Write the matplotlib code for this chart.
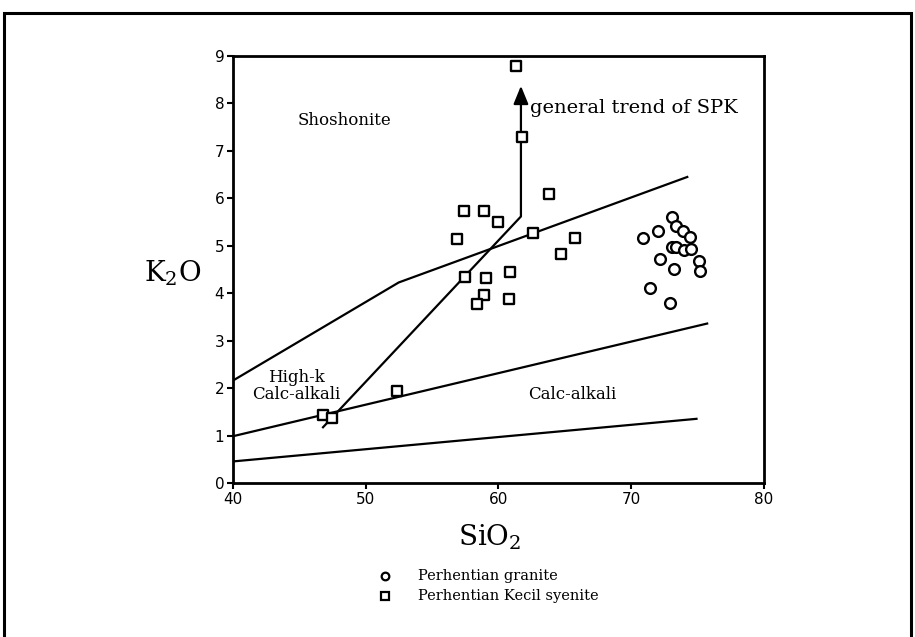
import matplotlib
matplotlib.use('Agg')
import matplotlib.pyplot as plt
from matplotlib.patches import Rectangle

plt.rcParams['mathtext.fontset'] = 'dejavuserif'

# Perhentian granite (circles)
granite_sio2 = [73.1, 73.4, 73.9, 74.4, 72.0, 70.9, 73.1, 73.4, 74.0, 74.5,
                72.2, 75.1, 75.2, 73.2, 71.4, 72.9]
granite_k2o = [5.60, 5.41, 5.32, 5.19, 5.32, 5.17, 4.97, 4.97, 4.92, 4.94,
               4.72, 4.69, 4.48, 4.51, 4.11, 3.79]

# Perhentian Kecil syenite (squares)
syenite_sio2 = [61.3, 61.8, 63.8, 57.4, 58.9, 60.0, 56.9, 62.6, 65.8, 64.7,
                57.5, 59.1, 60.9, 58.9, 58.4, 60.8, 46.8, 47.5, 52.4]
syenite_k2o = [8.79, 7.29, 6.09, 5.74, 5.74, 5.51, 5.15, 5.27, 5.17, 4.83,
               4.34, 4.33, 4.46, 3.96, 3.78, 3.88, 1.44, 1.37, 1.95]

# field boundaries
shosh_x = [40, 52.5, 74.3]
shosh_y = [2.16, 4.23, 6.46]
highk_x = [40, 75.8]
highk_y = [0.99, 3.37]
calc_x = [40, 75.0]
calc_y = [0.46, 1.36]

# general trend of SPK
trend_x = [46.8, 61.7, 61.7]
trend_y = [1.18, 5.62, 8.05]
trend_tip = 8.43

serif = 'DejaVu Serif'

fig = plt.figure(figsize=(9.15, 6.37), dpi=100)
ax = fig.add_axes([0.2543, 0.2413, 0.5807, 0.6708])

for xs, ys in [(shosh_x, shosh_y), (highk_x, highk_y), (calc_x, calc_y)]:
    ax.plot(xs, ys, color='black', lw=1.6, solid_capstyle='butt')

ax.plot(trend_x, trend_y, color='black', lw=1.6)
ax.annotate('', xy=(trend_x[-1], trend_tip), xytext=(trend_x[-1], trend_y[-1] - 0.05),
            arrowprops=dict(arrowstyle='-|>,head_length=1.1,head_width=0.45',
                            color='black', lw=1.6))

ax.scatter(syenite_sio2, syenite_k2o, marker='s', s=55, facecolors='white',
           edgecolors='black', linewidths=1.7, zorder=3)
ax.scatter(granite_sio2, granite_k2o, marker='o', s=60, facecolors='white',
           edgecolors='black', linewidths=1.7, zorder=3)

ax.text(48.4, 7.65, 'Shoshonite', family=serif, fontsize=12, ha='center', va='center')
ax.text(62.4, 7.9, 'general trend of SPK', family=serif, fontsize=14,
        ha='left', va='center')
ax.text(44.8, 2.05, 'High-k\nCalc-alkali', family=serif, fontsize=12,
        ha='center', va='center', linespacing=1.05)
ax.text(65.6, 1.86, 'Calc-alkali', family=serif, fontsize=12, ha='center', va='center')

ax.set_xlim(40, 80)
ax.set_ylim(0, 9)
ax.set_xticks([40, 50, 60, 70, 80])
ax.set_yticks(range(10))
ax.tick_params(direction='out', length=4, width=1.5, labelsize=11, pad=2)
for sp in ax.spines.values():
    sp.set_linewidth(2)

fig.text(0.189, 1 - 273 / 637, r'K$_2$O', family=serif, fontsize=20,
         ha='center', va='center')
fig.text(0.535, 1 - 537 / 637, r'SiO$_2$', family=serif, fontsize=20,
         ha='center', va='center')

# legend
fig.lines.append(plt.Line2D([385 / 915], [1 - 576 / 637], marker='o', ms=5.5,
                            mfc='white', mec='black', mew=1.6, transform=fig.transFigure))
fig.lines.append(plt.Line2D([385 / 915], [1 - 596 / 637], marker='s', ms=5.5,
                            mfc='white', mec='black', mew=1.6, transform=fig.transFigure))
fig.text(418 / 915, 1 - 576 / 637, 'Perhentian granite', family=serif, fontsize=10.5,
         ha='left', va='center')
fig.text(418 / 915, 1 - 596 / 637, 'Perhentian Kecil syenite', family=serif, fontsize=10.5,
         ha='left', va='center')

# outer frame
fig.patches.append(Rectangle((4 / 915, -0.02), 907 / 915, 1 - 13 / 637 + 0.02,
                             transform=fig.transFigure, fill=False,
                             edgecolor='black', lw=2.2))

fig.savefig('out.png', dpi=100)
